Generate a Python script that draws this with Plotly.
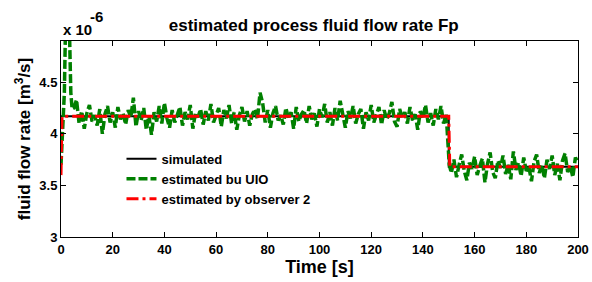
import numpy as np
import plotly.graph_objects as go

# ---- data (values in units of 1e-6 m^3/s) ----
sim_t = [0, 150, 150, 200]
sim_y = [4.17, 4.17, 3.68, 3.68]

obs_t = [0, 0.4, 150, 150.4, 200]
obs_y = [3.60, 4.17, 4.17, 3.68, 3.68]

uio_start_t = [0, 1.3, 2.4, 2.9, 3.4, 3.8, 4.3]
uio_start_y = [3.70, 4.40, 6.00, 5.40, 4.70, 4.40, 4.24]

uio_seg1_y = [
    4.25, 4.33, 4.10, 4.22, 4.05, 4.20, 4.28, 4.12, 4.18, 4.08,
    4.24, 4.00, 4.19, 4.27, 4.11, 4.21, 4.06, 4.26, 4.14, 4.20,
    4.09, 4.23, 4.16, 4.35, 4.07, 4.22, 4.13, 4.25, 4.04, 4.18,
    3.99, 4.21, 4.12, 4.27, 4.10, 4.30, 4.15, 4.06, 4.23, 4.11,
    4.19, 4.26, 4.08, 4.21, 4.14, 4.28, 4.05, 4.20, 4.16, 4.24,
    4.09, 4.22, 4.13, 4.29, 4.11, 4.19, 4.25, 4.07, 4.23, 4.15,
    4.28, 4.10, 4.21, 4.04, 4.18, 4.26, 4.12, 4.22, 4.08, 4.19,
    4.24, 4.14, 4.40, 4.30, 4.11, 4.23, 4.06, 4.20, 4.27, 4.13,
    4.18, 4.09, 4.25, 4.15, 4.21, 4.05, 4.26, 4.12, 4.19, 4.23,
    4.10, 4.27, 4.14, 4.20, 4.07, 4.24, 4.16, 4.29, 4.11, 4.21,
    4.08, 4.25, 4.13, 4.32, 4.17, 4.06, 4.22, 4.15, 4.27, 4.10,
    4.19, 4.24, 4.05, 4.21, 4.13, 4.28, 4.11, 4.18, 4.26, 4.09,
    4.23, 4.14, 4.20, 4.31, 4.12, 4.07, 4.24, 4.16, 4.21, 4.10,
    4.26, 4.13, 4.19, 4.04, 4.22, 4.15, 4.28, 4.11, 4.20, 4.08,
    4.24, 4.14, 4.27, 4.10, 4.19,
]  # t = 5 .. 149

uio_seg2_y = [
    3.62, 3.75, 3.58, 3.70, 3.80, 3.64, 3.55, 3.72, 3.66, 3.78,
    3.60, 3.69, 3.76, 3.53, 3.71, 3.82, 3.63, 3.57, 3.74, 3.67,
    3.79, 3.61, 3.70, 3.56, 3.83, 3.65, 3.72, 3.59, 3.77, 3.64,
    3.68, 3.54, 3.73, 3.80, 3.62, 3.70, 3.57, 3.75, 3.66, 3.79,
    3.60, 3.71, 3.55, 3.74, 3.81, 3.63, 3.69, 3.58, 3.77, 3.72,
]  # t = 151 .. 200

seg1_t = list(np.arange(5, 150))
seg2_t = list(np.arange(151, 201))
uio_t = uio_start_t + seg1_t + [150.2] + seg2_t
uio_y = uio_start_y + uio_seg1_y + [3.70] + uio_seg2_y

x_ticks = [0, 20, 40, 60, 80, 100, 120, 140, 160, 180, 200]
y_ticks = [3, 3.5, 4, 4.5]

FONT = "Liberation Sans, Arial, sans-serif"

fig = go.Figure()
fig.add_trace(go.Scatter(x=sim_t, y=sim_y, mode="lines", name="simulated",
                         line=dict(color="black", width=2)))
fig.add_trace(go.Scatter(x=uio_t, y=uio_y, mode="lines", name="estimated bu UIO",
                         line=dict(color="#008000", width=3.5, dash="9px,3px")))
fig.add_trace(go.Scatter(x=obs_t, y=obs_y, mode="lines", name="estimated by observer 2",
                         line=dict(color="#ff0000", width=3, dash="12px,4px,3px,4px")))

axis_common = dict(showgrid=False, zeroline=False, showline=True, linecolor="black",
                   linewidth=1, mirror="ticks", ticks="inside", ticklen=5,
                   tickcolor="black", automargin=False,
                   tickfont=dict(family=FONT, size=13, color="black", weight="bold"))

fig.update_layout(
    width=592, height=282,
    margin=dict(l=61, r=14, t=41, b=45),
    paper_bgcolor="white", plot_bgcolor="white",
    font=dict(family=FONT, color="black", weight="bold"),
    title=dict(text="estimated process fluid flow rate Fp", x=0.530, xanchor="center",
               xref="container", yref="container",
               y=0.911, yanchor="middle",
               font=dict(family=FONT, size=17, color="black", weight="bold")),
    xaxis=dict(range=[0, 200], tickvals=x_ticks,
               title=dict(text="Time [s]", standoff=2,
                          font=dict(family=FONT, size=18, color="black", weight="bold")),
               **axis_common),
    yaxis=dict(range=[3, 4.9], tickvals=y_ticks,
               title=dict(text="fluid flow rate [m<sup>3</sup>/s]", standoff=4,
                          font=dict(family=FONT, size=17, color="black", weight="bold")),
               **axis_common),
    legend=dict(x=0.117, y=0.475, xanchor="left", yanchor="top",
                bgcolor="rgba(255,255,255,0)", borderwidth=0,
                font=dict(family=FONT, size=13, color="black", weight="bold"),
                tracegroupgap=0),
    showlegend=True,
)

fig.add_annotation(text="x 10", xref="paper", yref="paper",
                   x=0.0, y=1.0, xanchor="left", yanchor="bottom", showarrow=False,
                   yshift=1,
                   font=dict(family=FONT, size=15, color="black", weight="bold"))
fig.add_annotation(text="-6", xref="paper", yref="paper",
                   x=0.052, y=1.0, xanchor="left", yanchor="bottom", showarrow=False,
                   yshift=14,
                   font=dict(family=FONT, size=15, color="black", weight="bold"))

fig.write_html("out.html", config={"displayModeBar": False},
               post_script="document.body.style.margin='0';document.body.style.overflow='hidden';")
